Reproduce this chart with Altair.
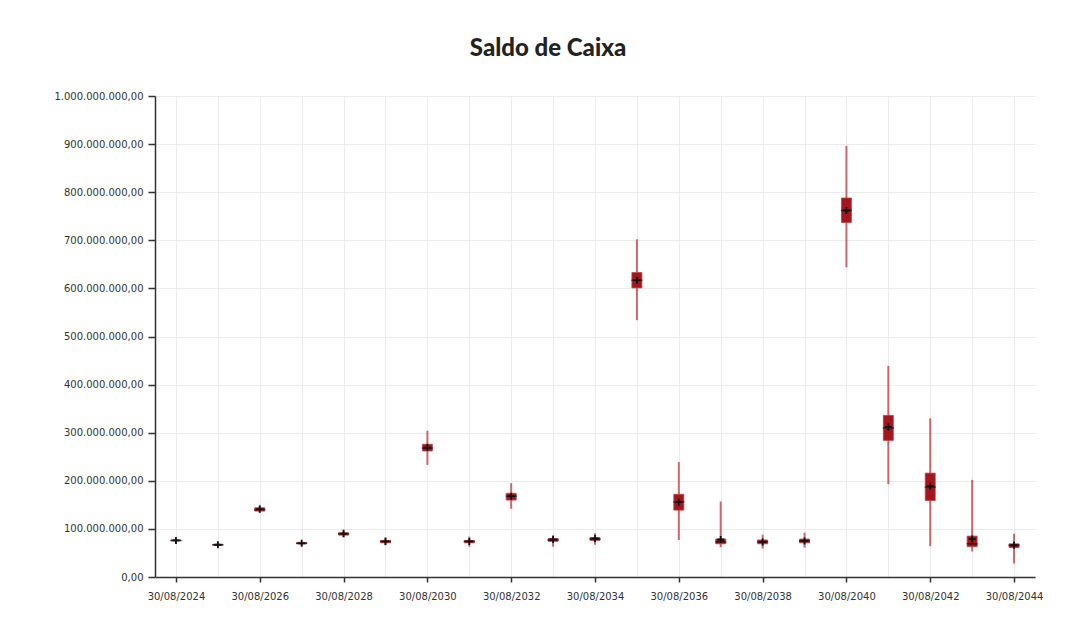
import altair as alt
import pandas as pd

years = list(range(2024, 2045))
# values in millions
v_min = [73, 64, 134, 65, 83, 66, 233, 63, 142, 63, 67, 534, 77, 62, 59, 61, 644, 193, 64, 53, 28]
v_q1 = [75, 66, 137, 69, 87, 71, 262, 71, 160, 74, 76, 601, 139, 69, 69, 71, 737, 284, 159, 63, 61]
v_med = [76, 67, 140, 70, 90, 74, 268, 74, 168, 77, 79, 617, 156, 73, 73, 75, 762, 310, 187, 69, 66]
v_q3 = [77, 68, 144, 72, 92, 76, 276, 76, 174, 80, 82, 633, 172, 79, 77, 79, 788, 336, 216, 85, 69]
v_max = [79, 70, 150, 74, 99, 83, 304, 84, 195, 87, 91, 702, 239, 157, 88, 92, 896, 439, 330, 202, 90]
v_mean = [76, 67, 141, 70, 90, 74, 269, 74, 168, 78, 80, 617, 156, 78, 73, 75, 762, 312, 189, 79, 66]
label_years = [y for y in years if y % 2 == 0]
y_ticks = [i * 100_000_000 for i in range(11)]

M = 1_000_000
df = pd.DataFrame({
    "ano": years,
    "min": [v * M for v in v_min],
    "q1": [v * M for v in v_q1],
    "med": [v * M for v in v_med],
    "q3": [v * M for v in v_q3],
    "max": [v * M for v in v_max],
    "mean": [v * M for v in v_mean],
})

xscale = alt.Scale(domain=[2023.5, 2044.5], nice=False, zero=False, padding=0)
yscale = alt.Scale(domain=[0, 1_000_000_000], nice=False)

ylabel = r"replace(replace(replace(format(datum.value, ',.2f'), /,/g, '#'), /\./g, ','), /#/g, '.')"

yaxis = alt.Axis(values=y_ticks, labelExpr=ylabel, title=None, grid=True, orient="left",
                 gridColor="#ececec", domainColor="#333333", tickColor="#333333",
                 domainWidth=1.5, tickWidth=1.5,
                 tickSize=7, labelPadding=5, labelFontSize=10, labelColor="#333333",
                 labelFont="DejaVu Sans")

base = alt.Chart(df)

whisker = base.mark_rule(color="#c0353d", strokeWidth=2, opacity=0.75).encode(
    x=alt.X("ano:Q", scale=xscale,
            axis=alt.Axis(values=years, grid=True, gridColor="#ececec", labels=False,
                          ticks=False, domain=False, title=None, orient="bottom")),
    y=alt.Y("min:Q", scale=yscale, axis=yaxis),
    y2="max:Q",
)

box = base.mark_bar(color="#a3161d", size=10, stroke="#b8454b", strokeWidth=0.8).encode(
    x=alt.X("ano:Q", scale=xscale,
            axis=alt.Axis(values=label_years, grid=False, labelExpr="'30/08/' + datum.value",
                          title=None, domainColor="#333333", tickColor="#333333", orient="bottom",
                          domainWidth=1.5, tickWidth=1.5,
                          tickSize=5, labelPadding=9, labelFontSize=10, labelColor="#333333",
                          labelFont="DejaVu Sans", labelFlush=False)),
    y=alt.Y("q1:Q", scale=yscale),
    y2="q3:Q",
)

median = base.mark_tick(orient="horizontal", color="#111111", size=11, thickness=1.5).encode(
    x=alt.X("ano:Q", scale=xscale, axis=None),
    y=alt.Y("med:Q", scale=yscale),
)

mean = base.mark_point(shape="M-1,0L1,0M0,-1L0,1", color="#111111", strokeWidth=1.8,
                       size=49, filled=False, opacity=1).encode(
    x=alt.X("ano:Q", scale=xscale, axis=None),
    y=alt.Y("mean:Q", scale=yscale),
)

chart = alt.layer(whisker, box, median, mean).resolve_axis(x="independent").properties(
    width=880,
    height=481,
    padding={"left": 147, "top": 88, "right": 40, "bottom": 50},
    autosize=alt.AutoSizeParams(type="none"),
    title=alt.TitleParams("Saldo de Caixa", font="Lato", fontSize=24, fontWeight=900,
                          color="#222222", anchor="middle", dx=-47, offset=30),
    background="white",
).configure_view(stroke=None)

chart.save("out.html", embed_options={"renderer": "svg", "actions": False})
